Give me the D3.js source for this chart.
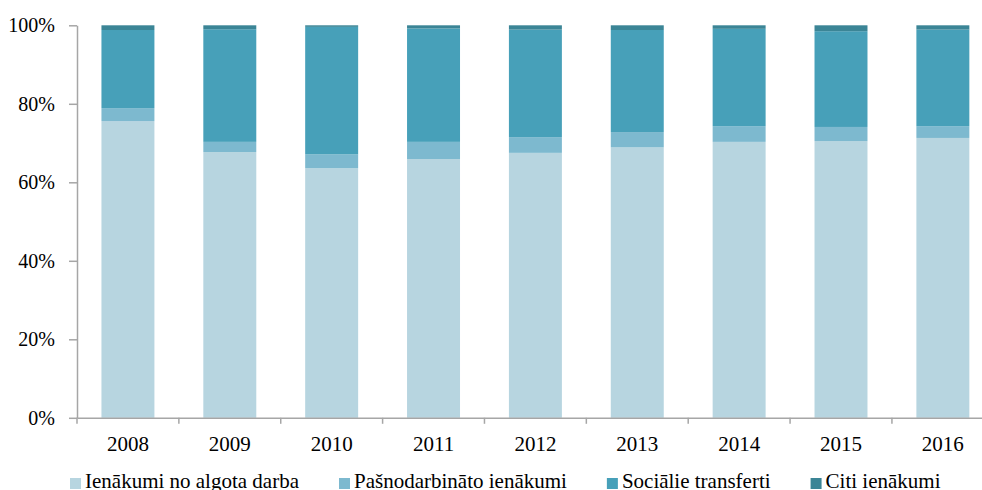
<!DOCTYPE html>
<html>
<head>
<meta charset="utf-8">
<script src="https://cdn.jsdelivr.net/npm/d3@7/dist/d3.min.js"></script>
<style>
  html, body { margin: 0; padding: 0; background: #fff; }
  svg { display: block; }
  text { font-family: "Liberation Serif", "Times New Roman", serif; fill: #000; }
</style>
</head>
<body>
<svg id="chart" width="982" height="490"></svg>
<script>
const years = ["2008","2009","2010","2011","2012","2013","2014","2015","2016"];
const seriesNames = ["Ienākumi no algota darba","Pašnodarbināto ienākumi","Sociālie transferti","Citi ienākumi"];
const wages      = [75.6, 67.7, 63.6, 65.9, 67.5, 68.9, 70.3, 70.5, 71.3];
const selfEmp    = [3.3, 2.6, 3.5, 4.4, 4.0, 3.9, 4.0, 3.6, 3.0];
const social     = [19.9, 28.7, 32.5, 28.9, 27.4, 26.0, 24.8, 24.4, 24.6];
const other      = [1.2, 1.0, 0.4, 0.8, 1.1, 1.2, 0.9, 1.5, 1.1];
const yTicks = [0, 20, 40, 60, 80, 100];
const colors = ["#B7D5E0", "#7DB9CF", "#47A0B9", "#3B8596"];

(function () {
const svg = d3.select("#chart");
const mLeft = 77, mRight = 993.8, mTop = 25.3, mBottom = 417.8;

const rows = years.map((yr, i) => ({year: yr, s0: wages[i], s1: selfEmp[i], s2: social[i], s3: other[i]}));
const stacked = d3.stack().keys(["s0","s1","s2","s3"])(rows);

const x = d3.scaleBand().domain(years).range([mLeft, mRight]).padding(0);
const y = d3.scaleLinear().domain([0, 100]).range([mBottom, mTop]);
const barW = x.bandwidth() * 0.52;
const axisColor = "#A6A6A6";

// bars
svg.append("g").selectAll("g")
  .data(stacked)
  .join("g")
  .attr("fill", (d, i) => colors[i])
  .selectAll("rect")
  .data(d => d)
  .join("rect")
  .attr("x", d => x(d.data.year) + (x.bandwidth() - barW) / 2)
  .attr("width", barW)
  .attr("y", d => y(d[1]))
  .attr("height", d => y(d[0]) - y(d[1]));

// y axis
const yAxis = svg.append("g")
  .attr("transform", `translate(${mLeft},0)`)
  .call(d3.axisLeft(y).tickValues(yTicks).tickFormat(d => d + "%").tickSize(8).tickPadding(14).tickSizeOuter(0));
yAxis.select(".domain").attr("stroke", axisColor).attr("stroke-width", 1.5);
yAxis.selectAll(".tick line").attr("stroke", axisColor).attr("stroke-width", 1.5);
yAxis.selectAll(".tick text").style("font-size", "20px").style("font-family", "Liberation Serif").attr("fill", "#000");

// x axis
const xAxis = svg.append("g")
  .attr("transform", `translate(0,${mBottom})`)
  .call(d3.axisBottom(x).tickSize(0).tickPadding(18).tickSizeOuter(0));
xAxis.select(".domain").attr("stroke", axisColor).attr("stroke-width", 1.5);
xAxis.selectAll(".tick text").style("font-size", "21px").style("font-family", "Liberation Serif").attr("fill", "#000");
const bounds = years.map(d => x(d)).concat([x(years[years.length - 1]) + x.bandwidth()]);
xAxis.selectAll(".bound")
  .data(bounds)
  .join("line")
  .attr("class", "bound")
  .attr("x1", d => d).attr("x2", d => d)
  .attr("y1", 0).attr("y2", 6)
  .attr("stroke", axisColor).attr("stroke-width", 1.5);

// legend
const legend = svg.append("g");
let lx = 70;
const ly = 488;
seriesNames.forEach((name, i) => {
  legend.append("rect")
    .attr("x", lx).attr("y", ly - 10)
    .attr("width", 11).attr("height", 11)
    .attr("fill", colors[i]);
  const t = legend.append("text")
    .attr("x", lx + 15).attr("y", ly)
    .style("font-size", "21px")
    .text(name);
  const w = t.node().getComputedTextLength();
  lx = lx + 15 + w + 40;
});
})();
</script>
</body>
</html>
